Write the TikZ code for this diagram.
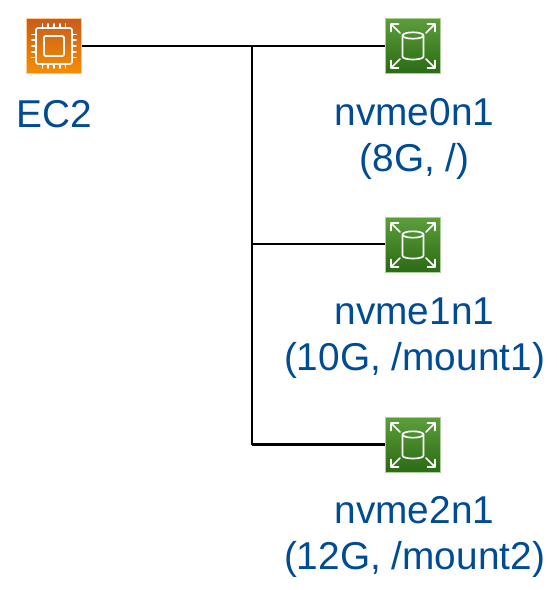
\documentclass[tikz,border=0pt]{standalone}
\usepackage{fontspec}
\setmainfont{Liberation Sans}
\definecolor{lbl}{HTML}{004B96}
\definecolor{ectop}{HTML}{C85B1C}
\definecolor{ecbot}{HTML}{F78E04}
\definecolor{ebtop}{HTML}{5C9E3A}
\definecolor{ebbot}{HTML}{2A6A14}
\tikzset{
  x=0.75pt,y=-0.75pt,
  iconbox/.style={rectangle,inner sep=0pt,minimum size=41.6pt,line width=0.4pt,shade,shading angle=0},
  ec2box/.style={iconbox,top color=ectop,bottom color=ecbot,draw=ecbot!45!white},
  ebsbox/.style={iconbox,top color=ebtop,bottom color=ebbot,draw=ebtop!50!white},
  lbltext/.style={text=lbl,font=\fontsize{29.1pt}{34.5pt}\selectfont,align=center,inner sep=0pt,anchor=center},
  wire/.style={line width=1.7pt,black},
  glyph/.style={draw=white,line width=1.25pt,line cap=round,line join=round},
}
\newcommand{\ebsglyph}[1]{%
  \begin{scope}[shift={(#1)},glyph]
    \draw (-10.5,-10.5) -- (-10.5,10.5) .. controls (-10.5,14.5) and (10.5,14.5) .. (10.5,10.5) -- (10.5,-10.5);
    \draw (0,-10.5) ellipse [x radius=10.5,y radius=3.2];
    \foreach \sx/\sy in {1/1,1/-1,-1/1,-1/-1}{
      \draw[xscale=\sx,yscale=\sy] (13,13) -- (22,22) (22,14.5) -- (22,22) -- (14.5,22);
    }
  \end{scope}}
\begin{document}
\begin{tikzpicture}
\useasboundingbox (0,0) rectangle (557,590);
\node[ec2box] (ec2) at (54,46) {};
\node[ebsbox] (v0) at (413,46) {};
\node[ebsbox] (v1) at (413,245) {};
\node[ebsbox] (v2) at (413,445) {};
\coordinate (j0) at (252,46);
\coordinate (j1) at (252,244);
\coordinate (j2) at (252,444.5);
\draw[wire] (ec2) -- (v0);
\draw[wire] (j0) -- (j2);
\draw[wire] (j1) -- (j1 -| v1.west);
\draw[wire] (j2) -- (j2 -| v2.west);
\begin{scope}[shift={(ec2.center)},glyph]
  \draw[rounded corners=1.5pt] (-18,-18) rectangle (18,18);
  \draw[rounded corners=1pt] (-10,-10) rectangle (10,10);
  \foreach \t in {-11.4,-5.7,0,5.7,11.4}{
    \draw (\t,-22) -- (\t,-18) (\t,18) -- (\t,22) (-22,\t) -- (-18,\t) (18,\t) -- (22,\t);
  }
\end{scope}
\ebsglyph{v0.center}
\ebsglyph{v1.center}
\ebsglyph{v2.center}
\node[lbltext] (t0) at (54.5,114) {EC2};
\node[lbltext] (t1) at (414.5,139) {nvme0n1\\(8G, /)};
\node[lbltext] (t2) at (414.5,338) {nvme1n1\\(10G, /mount1)};
\node[lbltext] (t3) at (414.5,537) {nvme2n1\\(12G, /mount2)};
\end{tikzpicture}
\end{document}
